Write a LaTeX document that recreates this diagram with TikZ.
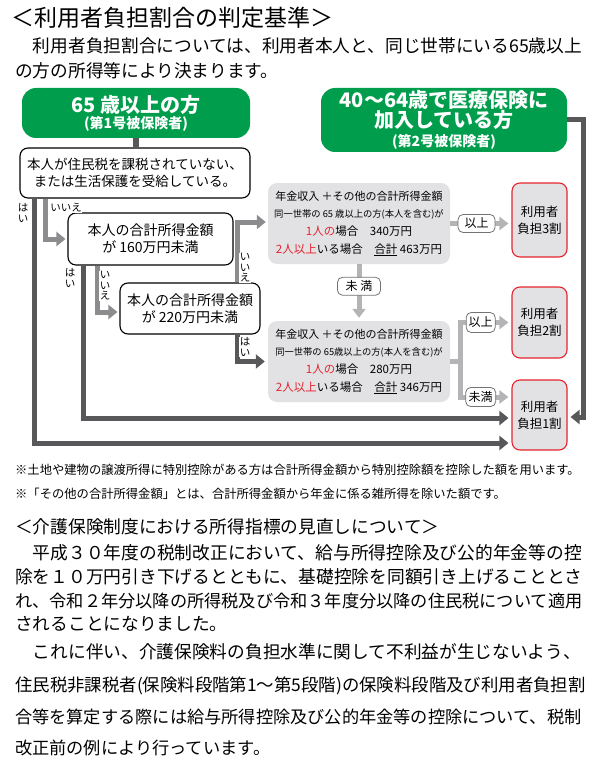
\documentclass[tikz,border=0pt]{standalone}
\usepackage{fontspec}
\setmainfont{Noto Sans CJK JP}
\usepackage{xcolor}
\usepackage{tikz}
\usetikzlibrary{positioning,arrows.meta}
\definecolor{cgreen}{RGB}{0,158,76}
\definecolor{cdark}{RGB}{88,88,90}
\definecolor{cmid}{RGB}{140,140,142}
\definecolor{clight}{RGB}{180,180,182}
\definecolor{cpanel}{RGB}{226,226,229}
\definecolor{cred}{RGB}{230,36,46}
\newcommand{\fsz}[2]{\fontsize{#1}{#2}\selectfont}

\begin{document}
\begin{tikzpicture}[
  x=1pt,y=-1pt,
  txt/.style={anchor=west,inner sep=0pt},
  grn/.style={fill=cgreen,rounded corners=14pt,text=white,align=center,inner sep=0pt,font=\bfseries\fsz{20}{19}},
  ask/.style={draw,line width=1.1pt,rounded corners=8pt,fill=white,align=center,inner sep=0pt,font=\fsz{14}{17}},
  panel/.style={fill=cpanel,rounded corners=9pt,align=center,inner sep=0pt,minimum width=182pt,minimum height=81pt,font=\fsz{11.5}{17.7}},
  rate/.style={draw=cred,line width=1.1pt,fill=cpanel,rounded corners=8pt,align=center,inner sep=0pt,minimum width=55pt,font=\fsz{12.5}{17}},
  tag/.style={draw=black!55,line width=0.8pt,fill=white,rounded corners=5pt,inner sep=0pt,minimum height=18pt,text=black,font=\fsz{12}{12}},
  yn/.style={inner sep=0.5pt,fill=white,align=center,font=\fsz{10.5}{10.5}},
  yesline/.style={cdark,line width=5pt,-{Triangle[length=9pt,width=14pt]},shorten >=3pt},
  noline/.style={cmid,line width=5pt,-{Triangle[length=9pt,width=14pt]},shorten >=2pt},
  flowline/.style={clight,line width=5pt},
  flowtip/.style={-{Triangle[length=9pt,width=13pt]},shorten >=3pt},
]
\useasboundingbox (0,0) rectangle (595,762);

% heading and lead text
\node[txt,font=\fsz{23}{23}] (ttl1) at (11,18) {＜利用者負担割合の判定基準＞};
\node[txt,font=\fsz{17.7}{17.7}] (lead1) at (15,46) {　利用者負担割合については、利用者本人と、同じ世帯にいる65歳以上};
\node[txt,font=\fsz{17.7}{17.7}] (lead2) at (15,71) {の方の所得等により決まります。};

% insured groups
\node[grn,minimum width=228pt,minimum height=50pt,font=\bfseries\fsz{20}{16}] (g1) at (136,113) {65 歳以上の方\\{\fsz{14}{16}(第1号被保険者)}};
\node[grn,minimum width=246pt,minimum height=64pt] (g2) at (444,120) {40〜64歳で医療保険に\\加入している方\\{\fsz{14}{16}(第2号被保険者)}};

% questions
\node[ask,minimum width=230pt,minimum height=50pt,font=\fsz{13.5}{16.5}] (q1) at (135,173) {本人が住民税を課税されていない、\\または生活保護を受給している。};
\node[ask,minimum width=165pt,minimum height=52pt] (q2) at (150.5,239) {本人の合計所得金額\\が 160万円未満};
\node[ask,minimum width=140pt,minimum height=51pt] (q3) at (190,308.5) {本人の合計所得金額\\が 220万円未満};

% income tests
\node[panel] (i1) at (359,223.5) {{\fsz{11}{17.7}年金収入 ＋その他の合計所得金額}\\{\fsz{9.3}{17.7}同一世帯の 65 歳以上の方(本人を含む)が}\\\textcolor{cred}{1人の}場合　340万円\\\textcolor{cred}{2人以上}いる場合　\underline{合計} 463万円};
\node[panel] (i2) at (359,361.5) {{\fsz{11}{17.7}年金収入 ＋その他の合計所得金額}\\{\fsz{9.3}{17.7}同一世帯の 65歳以上の方(本人を含む)が}\\\textcolor{cred}{1人の}場合　280万円\\\textcolor{cred}{2人以上}いる場合　\underline{合計} 346万円};

% burden ratios
\node[rate,minimum height=74pt] (r3) at (539.5,220) {利用者\\負担3割};
\node[rate,minimum height=71pt] (r2) at (539.5,322.5) {利用者\\負担2割};
\node[rate,minimum height=70pt] (r1) at (539.5,415) {利用者\\負担1割};

% yes branches
\draw[cdark,line width=6pt] (g1.south) -- (g1.south |- q1.north);
\draw[yesline] (q1.south -| 34,0) |- (r1.west |- 0,443);
\draw[yesline] (q2.south -| 83,0) |- (r1.west |- 0,418);
\draw[yesline] (q3.south -| 237,0) |- (i2.west);
\draw[yesline] (g2.east) -| (583,417) -- (r1.east |- 0,417);

% no branches
\draw[noline] (q1.south -| 45,0) |- (q2.west);
\draw[noline] (q2.south -| 97,0) |- (q3.west |- 0,312);
\draw[noline] (q3.north -| 237,0) |- (i1.west |- 0,222);

% income results
\draw[flowline,flowtip] (i1.east) -- node[tag,minimum width=37pt,pos=0.43]{以上} (i1.east -| r3.west);
\draw[flowline,flowtip] (i1.south) -- node[tag,minimum width=43pt,pos=0.39]{未 満} (i2.north);
\draw[flowline] (i2.east) -- ++(10,0) coordinate (fork);
\draw[flowline,flowtip] (fork) |- node[tag,minimum width=29pt,minimum height=20pt,pos=0.7]{以上} (r2.west);
\draw[flowline,flowtip] (fork) |- node[tag,minimum width=30pt,minimum height=19pt,pos=0.7]{未満} (r1.west |- 0,397);

\node[yn] (yes1) at (23,213) {は\\い};
\node[yn] (no1) at (66,208) {いいえ};
\node[yn] (yes2) at (70,278) {は\\い};
\node[yn] (no2) at (105,286) {い\\い\\え};
\node[yn] (no3) at (245,268) {い\\い\\え};
\node[yn] (yes3) at (245,347) {は\\い};

% notes and second section
\node[txt,font=\fsz{12.3}{12.3}] (note1) at (15,470) {※土地や建物の譲渡所得に特別控除がある方は合計所得金額から特別控除額を控除した額を用います。};
\node[txt,font=\fsz{12.3}{12.3}] (note2) at (15,494) {※「その他の合計所得金額」とは、合計所得金額から年金に係る雑所得を除いた額です。};
\node[txt,font=\fsz{17.7}{17.7}] (ttl2) at (15,527) {＜介護保険制度における所得指標の見直しについて＞};
\node[txt,font=\fsz{17.75}{17.75}] (body1) at (15,553) {　平成３０年度の税制改正において、給与所得控除及び公的年金等の控};
\node[txt,font=\fsz{17.75}{17.75}] (body2) at (15,577) {除を１０万円引き下げるとともに、基礎控除を同額引き上げることとさ};
\node[txt,font=\fsz{17.2}{17.2}] (body3) at (15,601) {れ、令和２年分以降の所得税及び令和３年度分以降の住民税について適用};
\node[txt,font=\fsz{17.7}{17.7}] (body4) at (15,624) {されることになりました。};
\node[txt,font=\fsz{17.7}{17.7}] (body5) at (15,652) {　これに伴い、介護保険料の負担水準に関して不利益が生じないよう、};
\node[txt,font=\fsz{17.4}{17.4}] (body6) at (15,686) {住民税非課税者(保険料段階第1〜第5段階)の保険料段階及び利用者負担割};
\node[txt,font=\fsz{17.2}{17.2}] (body7) at (15,717) {合等を算定する際には給与所得控除及び公的年金等の控除について、税制};
\node[txt,font=\fsz{17.2}{17.2}] (body8) at (15,748) {改正前の例により行っています。};
\end{tikzpicture}
\end{document}
